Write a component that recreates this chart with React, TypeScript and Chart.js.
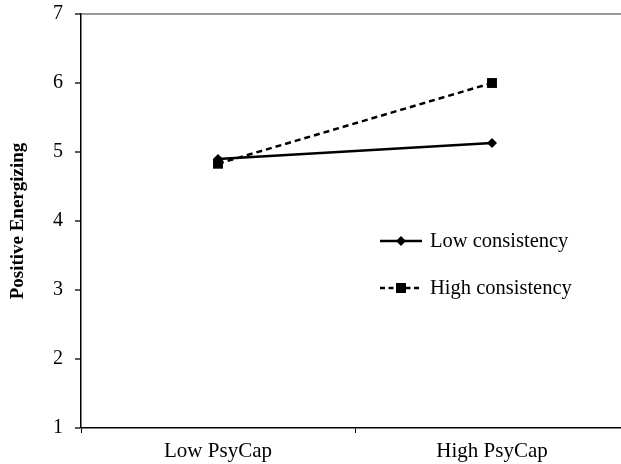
import React, { useEffect, useRef } from "react";
import { Chart, registerables } from "chart.js";

Chart.register(...registerables);

const categories = ["Low PsyCap", "High PsyCap"];
const lowConsistency = [4.9, 5.13];
const highConsistency = [4.83, 6.0];
const seriesNames = ["Low consistency", "High consistency"];
const yTicks = [1, 2, 3, 4, 5, 6, 7];
const yTitle = "Positive Energizing";

const SERIF = "'Liberation Serif', 'Times New Roman', serif";

const legendPlugin = {
  id: "insideLegend",
  afterDraw(chart: any) {
    const { ctx, chartArea } = chart;
    const x0 = chartArea.left + 299;
    const rows = [chartArea.top + 227, chartArea.top + 274];
    ctx.save();
    chart.data.datasets.forEach((ds: any, i: number) => {
      const y = rows[i];
      ctx.strokeStyle = "#000";
      ctx.lineWidth = 2.5;
      ctx.setLineDash(ds.borderDash ? [5, 3.5] : []);
      ctx.beginPath();
      ctx.moveTo(x0, y);
      ctx.lineTo(x0 + 42, y);
      ctx.stroke();
      ctx.setLineDash([]);
      ctx.fillStyle = "#000";
      const cx = x0 + 21;
      if (ds.pointStyle === "rect") {
        ctx.fillRect(cx - 5, y - 5, 10, 10);
      } else {
        ctx.beginPath();
        ctx.moveTo(cx, y - 5);
        ctx.lineTo(cx + 5, y);
        ctx.lineTo(cx, y + 5);
        ctx.lineTo(cx - 5, y);
        ctx.closePath();
        ctx.fill();
      }
      ctx.font = `20.5px ${SERIF}`;
      ctx.textBaseline = "middle";
      ctx.textAlign = "left";
      ctx.fillText(ds.label, x0 + 50, y + 1);
    });
    ctx.restore();
  },
};

export default function App() {
  const ref = useRef<HTMLCanvasElement | null>(null);
  useEffect(() => {
    document.body.style.margin = "0";
    const canvas = ref.current!;
    const chart = new Chart(canvas, {
      type: "line",
      data: {
        labels: categories,
        datasets: [
          {
            label: seriesNames[0],
            data: lowConsistency,
            borderColor: "#000",
            backgroundColor: "#000",
            borderWidth: 2.5,
            pointStyle: "rectRot",
            pointRadius: 5,
            pointBorderWidth: 0,
            pointBackgroundColor: "#000",
          },
          {
            label: seriesNames[1],
            data: highConsistency,
            borderColor: "#000",
            backgroundColor: "#000",
            borderWidth: 2.5,
            borderDash: [6, 4],
            pointStyle: "rect",
            pointRadius: 7,
            pointBorderWidth: 0,
            pointBackgroundColor: "#000",
          },
        ],
      },
      options: {
        responsive: false,
        animation: false,
        layout: { padding: { top: 14, left: 0, right: 11, bottom: 0 } },
        plugins: {
          legend: { display: false },
          tooltip: { enabled: false },
        },
        scales: {
          x: {
            type: "category",
            offset: true,
            afterFit: (s: any) => {
              s.height = 36;
              s.paddingLeft = 0;
              s.paddingRight = 0;
            },
            grid: {
              offset: true,
              drawOnChartArea: false,
              tickColor: "#000",
              tickLength: 5,
              lineWidth: 1,
            },
            border: { color: "#000", width: 1.5 },
            ticks: {
              color: "#000",
              font: { family: SERIF, size: 21 },
              padding: 6,
            },
          },
          y: {
            min: yTicks[0],
            max: yTicks[yTicks.length - 1],
            afterFit: (s: any) => {
              s.width = 81;
              s.paddingTop = 0;
              s.paddingBottom = 0;
            },
            afterBuildTicks: (s: any) => {
              s.ticks = yTicks.map((v) => ({ value: v }));
            },
            grid: {
              color: (c: any) =>
                c.tick && c.tick.value === yTicks[yTicks.length - 1] ? "#9a9a9a" : "rgba(0,0,0,0)",
              lineWidth: (c: any) =>
                c.tick && c.tick.value === yTicks[yTicks.length - 1] ? 2 : 0,
              tickColor: "#000",
              tickWidth: 1.3,
              tickLength: 6,
            },
            border: { color: "#000", width: 1.5 },
            ticks: {
              color: "#000",
              font: { family: SERIF, size: 20 },
              padding: 12,
            },
            title: {
              display: true,
              text: yTitle,
              color: "#000",
              font: { family: SERIF, size: 19, weight: "bold" },
              padding: { top: 7, bottom: 0 },
            },
          },
        },
      },
      plugins: [legendPlugin],
    });
    return () => chart.destroy();
  }, []);
  return (
    <div
      style={{
        position: "fixed",
        left: 0,
        top: 0,
        width: 621,
        height: 464,
        overflow: "hidden",
        background: "#fff",
      }}
    >
      <canvas ref={ref} width={640} height={464} style={{ width: 640, height: 464, display: "block" }} />
    </div>
  );
}
